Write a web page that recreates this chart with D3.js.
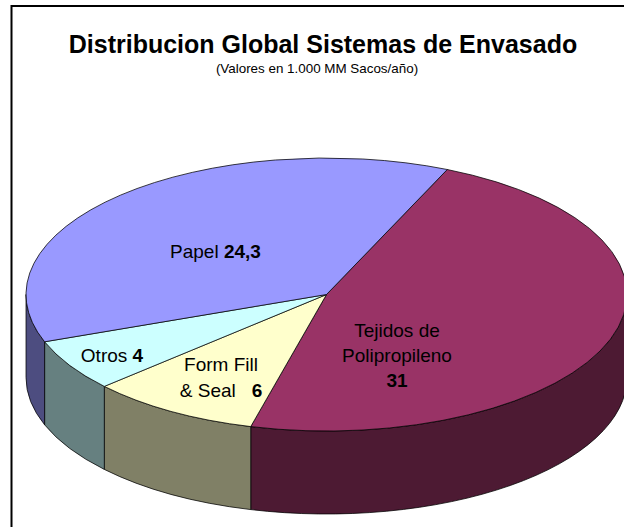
<!DOCTYPE html>
<html><head><meta charset="utf-8">
<script src="https://cdn.jsdelivr.net/npm/d3@7"></script>
<style>html,body{margin:0;padding:0;background:#fff;overflow:hidden}svg{display:block}text{font-family:"Liberation Sans",Arial,sans-serif;fill:#000}</style>
</head><body><svg id="c" width="624" height="527"></svg>
<script>
const categories = ["Tejidos de Polipropileno","Form Fill & Seal","Otros","Papel"];
const seriesValues = [31,6,4,24.3];
const topColors = ["#993366","#FFFFCC","#CCFFFF","#9999FF"];
const sideColors = ["#4D1A33","#808066","#668080","#4D4D80"];
const labelLines = [
  [[["Tejidos de",0]],[["Polipropileno",0]],[["31",1]]],
  [[["Form Fill",0]],[["& Seal   ",0],["6",1]]],
  [[["Otros ",0],["4",1]]],
  [[["Papel ",0],["24,3",1]]]
];
const titleText = "Distribucion Global Sistemas de Envasado";
const subtitleText = "(Valores en 1.000 MM Sacos/año)";

const W=624,H=527,cx=326.5,cy=294.5,rx=300.5,ry=136.5,depth=83;
const svg=d3.select("#c");
svg.append("rect").attr("x",11.5).attr("y",6).attr("width",W+20).attr("height",H+20).attr("fill","#fff").attr("stroke","#000").attr("stroke-width",2);

svg.append("text").attr("x",323).attr("y",53).attr("text-anchor","middle").attr("font-size",25).attr("font-weight","bold").text(titleText);
svg.append("text").attr("x",317).attr("y",73).attr("text-anchor","middle").attr("font-size",13.4).text(subtitleText);

const start=23.7*Math.PI/180;
const pie=d3.pie().sort(null).startAngle(start).endAngle(start+2*Math.PI);
const arcs=pie(seriesValues);
const px=d3.scaleLinear().domain([-1,1]).range([cx-rx,cx+rx]);
const py=d3.scaleLinear().domain([-1,1]).range([cy+ry,cy-ry]);
const X=a=>px(Math.sin(a)), Y=a=>py(Math.cos(a));

function arcTo(a0,a1,dy){
  const large=(a1-a0)>Math.PI?1:0;
  return `A${rx},${ry} 0 ${large} 1 ${X(a1)},${Y(a1)+dy}`;
}
const g=svg.append("g").attr("stroke","#000").attr("stroke-width",1).attr("stroke-opacity",.75).attr("stroke-linejoin","round");
arcs.forEach((d,i)=>{
  const lo=Math.PI/2, hi=Math.PI*1.5;
  const a0=Math.max(d.startAngle,lo), a1=Math.min(d.endAngle,hi);
  if(a1<=a0) return;
  g.append("path").attr("fill",sideColors[i])
   .attr("d",`M${X(a0)},${Y(a0)}${arcTo(a0,a1,0)}L${X(a1)},${Y(a1)+depth}A${rx},${ry} 0 0 0 ${X(a0)},${Y(a0)+depth}Z`);
});
arcs.forEach((d,i)=>{
  g.append("path").attr("fill",topColors[i])
   .attr("d",`M${cx},${cy}L${X(d.startAngle)},${Y(d.startAngle)}${arcTo(d.startAngle,d.endAngle,0)}Z`);
});

const labelPos=[[397,337,25],[221,371,26],[112,362,0],[215.5,258,0]];
labelLines.forEach((lines,i)=>{
  const [lx,ly,lh]=labelPos[i];
  lines.forEach((runs,j)=>{
    const t=svg.append("text").attr("x",lx).attr("y",ly+j*lh).attr("text-anchor","middle").attr("font-size",19).attr("xml:space","preserve").style("white-space","pre");
    runs.forEach(r=>t.append("tspan").attr("font-weight",r[1]?"bold":"normal").text(r[0]));
  });
});
</script></body></html>
